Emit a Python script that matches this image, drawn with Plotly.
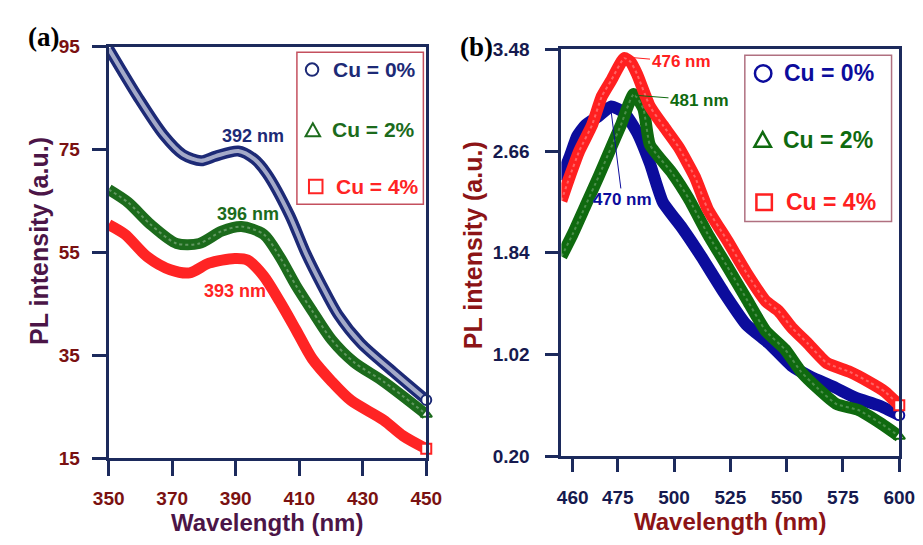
import plotly.graph_objects as go

# ---------------- data: panel (a) ----------------
wl_a_cu0 = [350, 359.2, 367.3, 373.4, 379.1, 383.7, 390.8, 395.9, 399.8, 407.0, 412.1, 417.2, 422.2, 429.4, 439.5, 450]
pl_a_cu0 = [94.6, 85.2, 77.8, 74.0, 72.8, 73.7, 74.7, 73.1, 70.3, 62.2, 54.8, 48.5, 42.9, 37.3, 31.8, 26.3]

wl_a_cu2 = [350, 356.1, 363.2, 371.4, 378.5, 385.6, 391.8, 398.8, 403.9, 409.0, 414.1, 420.2, 427.3, 436.5, 450]
pl_a_cu2 = [67.2, 64.7, 60.4, 56.7, 56.7, 59.1, 60.0, 58.5, 54.1, 48.5, 43.6, 38.0, 33.6, 29.9, 23.5]

wl_a_cu4 = [350, 355.1, 362.2, 369.4, 375.5, 381.6, 389.7, 393.7, 398.8, 403.9, 409.0, 414.1, 420.2, 426.3, 436.5, 442.7, 450]
pl_a_cu4 = [60.4, 58.5, 54.1, 51.6, 51.0, 52.9, 53.8, 53.5, 50.4, 45.4, 39.9, 34.3, 29.9, 26.2, 22.4, 19.3, 16.8]

# ---------------- data: panel (b) ----------------
wl_b_cu0 = [449.5, 453.6, 457.0, 460.7, 466.4, 472.1, 477.9, 483.6, 489.3, 495.0, 503.6, 512.1, 522.1, 532.1, 542.1, 552.1, 560.7, 570.7, 580.7, 590.7, 600]
pl_b_cu0 = [2.43, 2.61, 2.78, 2.87, 2.94, 3.02, 2.97, 2.81, 2.56, 2.25, 2.04, 1.81, 1.52, 1.26, 1.11, 0.93, 0.84, 0.76, 0.67, 0.61, 0.53]

wl_b_cu2 = [450, 455.0, 460.7, 466.4, 472.1, 476.4, 482.1, 486.4, 489.3, 499.3, 506.4, 515.0, 523.6, 532.1, 540.7, 549.3, 556.4, 563.6, 572.1, 582.1, 592.1, 600]
pl_b_cu2 = [1.81, 1.99, 2.22, 2.45, 2.69, 2.87, 3.12, 3.00, 2.71, 2.48, 2.28, 1.99, 1.73, 1.47, 1.21, 1.06, 0.88, 0.75, 0.62, 0.57, 0.46, 0.36]

wl_b_cu4 = [450, 453.6, 457.9, 463.6, 467.9, 472.1, 477.9, 480.7, 483.6, 489.3, 495.0, 502.1, 509.3, 515.0, 523.6, 532.1, 540.7, 546.4, 552.1, 559.3, 567.9, 577.9, 586.4, 593.6, 600]
pl_b_cu4 = [2.26, 2.45, 2.66, 2.87, 3.10, 3.23, 3.41, 3.38, 3.28, 3.02, 2.87, 2.69, 2.45, 2.19, 1.94, 1.68, 1.45, 1.37, 1.24, 1.11, 0.95, 0.88, 0.80, 0.72, 0.61]

series_names = ["Cu = 0%", "Cu = 2%", "Cu = 4%"]

xticks_a = [350, 370, 390, 410, 430, 450]
yticks_a = [15, 35, 55, 75, 95]
xtickvals_b = [455, 475, 500, 525, 550, 575, 600]
xticktext_b = ["460", "475", "500", "525", "550", "575", "600"]
yticks_b = [0.20, 1.02, 1.84, 2.66, 3.48]

# ---------------- styles ----------------
FONT = "Liberation Sans, Arial, sans-serif"
col_a = ["#1d2a76", "#1c6b1c", "#ff2424"]
col_b = ["#0c0c9c", "#0f6a0f", "#ff2020"]
sym = ["circle", "triangle-up", "square"]
FRAME = "#1c2a5c"

W, H = 923, 545


def px_x(p):
    return p / W


def px_y(p):
    return 1 - p / H


fig = go.Figure()

data_a = [(wl_a_cu0, pl_a_cu0), (wl_a_cu2, pl_a_cu2), (wl_a_cu4, pl_a_cu4)]
data_b = [(wl_b_cu0, pl_b_cu0), (wl_b_cu2, pl_b_cu2), (wl_b_cu4, pl_b_cu4)]
tex_a = [(4, 0.6, "solid"), (2, 0.3, "dot"), (0, 0, "solid")]
tex_b = [(0, 0, "solid"), (2, 0.25, "dot"), (2, 0.3, "dot")]

for i, (x, y) in enumerate(data_a):
    fig.add_trace(go.Scatter(x=x, y=y, mode="lines", line=dict(color=col_a[i], width=11, shape="spline", smoothing=0.8),
                             xaxis="x", yaxis="y", showlegend=False, hoverinfo="skip"))
    w, op, ds = tex_a[i]
    if w:
        fig.add_trace(go.Scatter(x=x, y=y, mode="lines",
                                 line=dict(color="white", width=w, shape="spline", smoothing=0.8, dash=ds),
                                 opacity=op, xaxis="x", yaxis="y", showlegend=False, hoverinfo="skip"))
    fig.add_trace(go.Scatter(x=[x[-1]], y=[y[-1]], mode="markers", cliponaxis=False,
                             marker=dict(symbol=sym[i], size=10, color="white", line=dict(color=col_a[i], width=2)),
                             xaxis="x", yaxis="y", showlegend=False, hoverinfo="skip"))

for i, (x, y) in enumerate(data_b):
    fig.add_trace(go.Scatter(x=x, y=y, mode="lines", line=dict(color=col_b[i], width=12, shape="spline", smoothing=0.5),
                             xaxis="x2", yaxis="y2", showlegend=False, hoverinfo="skip"))
    w, op, ds = tex_b[i]
    if w:
        fig.add_trace(go.Scatter(x=x, y=y, mode="lines",
                                 line=dict(color="white", width=w, shape="spline", smoothing=0.5, dash=ds),
                                 opacity=op, xaxis="x2", yaxis="y2", showlegend=False, hoverinfo="skip"))
    fig.add_trace(go.Scatter(x=[x[-1]], y=[y[-1]], mode="markers", cliponaxis=False,
                             marker=dict(symbol=sym[i], size=10, color="white", line=dict(color=col_b[i], width=2)),
                             xaxis="x2", yaxis="y2", showlegend=False, hoverinfo="skip"))

axis_common = dict(showline=True, mirror=True, linewidth=3, linecolor=FRAME, ticks="outside",
                   tickwidth=3, tickcolor=FRAME, showgrid=False, zeroline=False)

fig.update_layout(
    width=W, height=H, margin=dict(l=0, r=0, t=0, b=0),
    paper_bgcolor="white", plot_bgcolor="white", showlegend=False,
    xaxis=dict(domain=[px_x(96), px_x(425)], range=[350, 450], tickvals=xticks_a, anchor="y", ticklen=15,
               ticklabelstandoff=6,
               tickfont=dict(family=FONT, size=19, color="#7a1111", weight="bold"), **axis_common),
    yaxis=dict(domain=[px_y(466), px_y(38)], range=[15, 95], tickvals=yticks_a, anchor="x", ticklen=14,
               ticklabelstandoff=8,
               tickfont=dict(family=FONT, size=19, color="#7a1111", weight="bold"), **axis_common),
    xaxis2=dict(domain=[px_x(565), px_x(915)], range=[450, 600], tickvals=xtickvals_b, ticktext=xticktext_b,
                anchor="y2", ticklen=13, ticklabelstandoff=9,
                tickfont=dict(family=FONT, size=19, color="#161a4f", weight="bold"), **axis_common),
    yaxis2=dict(domain=[px_y(464), px_y(41)], range=[0.20, 3.48], tickvals=yticks_b, tickformat=".2f",
                anchor="x2", ticklen=13, ticklabelstandoff=12,
                tickfont=dict(family=FONT, size=19, color="#161a4f", weight="bold"), **axis_common),
)

ann = []


def paper_text(text, x, y, size, color, angle=0, family=FONT, bold=True, xanchor="center"):
    f = dict(family=family, size=size, color=color)
    if bold:
        f["weight"] = "bold"
    ann.append(dict(text=text, x=px_x(x), y=px_y(y), xref="paper", yref="paper", showarrow=False,
                    xanchor=xanchor, yanchor="middle", textangle=angle, font=f))


# axis titles
paper_text("Wavelength (nm)", 260, 533, 24, "#4b1547")
paper_text("PL intensity (a.u.)", 24, 240, 25, "#4b1547", angle=-90)
paper_text("Wavelength (nm)", 740, 532, 24, "#8c1416")
paper_text("PL intensity (a.u.)", 473, 245, 25, "#8c1416", angle=-90)
# panel labels
paper_text("<b>(a)</b>", 29, 28, 27, "black", family="Liberation Serif, Times New Roman, serif", bold=False)
paper_text("<b>(b)</b>", 477, 39, 27, "black", family="Liberation Serif, Times New Roman, serif", bold=False)

# peak labels (a)
for txt, xv, yv, c in [("392 nm", 395.3, 77.6, col_a[0]), ("396 nm", 394.0, 62.5, col_a[1]),
                       ("393 nm", 389.8, 47.4, col_a[2])]:
    ann.append(dict(text=txt, x=xv, y=yv, xref="x", yref="y", showarrow=False,
                    font=dict(family=FONT, size=18, color=c, weight="bold")))
# peak labels (b) with leader lines
for txt, xv, yv, axv, ayv, c in [("476 nm", 477.9, 3.42, 503.1, 3.38, col_b[2]),
                                 ("481 nm", 483.0, 3.11, 511.3, 3.07, col_b[1]),
                                 ("470 nm", 471.8, 3.02, 477.0, 2.27, col_b[0])]:
    ann.append(dict(text=txt, x=xv, y=yv, xref="x2", yref="y2", ax=axv, ay=ayv, axref="x2", ayref="y2",
                    showarrow=True, arrowhead=0, arrowwidth=1, arrowcolor=c,
                    font=dict(family=FONT, size=17, color=c, weight="bold")))

# ---------------- legends (drawn as layout shapes + text) ----------------
shapes = []


def box(x0, y0, x1, y1, color):
    shapes.append(dict(type="rect", xref="paper", yref="paper", x0=px_x(x0), x1=px_x(x1), y0=px_y(y1), y1=px_y(y0),
                       line=dict(color=color, width=1.5), fillcolor="white", layer="above"))


def symbol(kind, cx, cy, d, color, lw):
    r = d / 2
    if kind == "circle":
        shapes.append(dict(type="circle", xref="paper", yref="paper", x0=px_x(cx - r), x1=px_x(cx + r),
                           y0=px_y(cy + r), y1=px_y(cy - r), line=dict(color=color, width=lw), layer="above"))
    elif kind == "square":
        shapes.append(dict(type="rect", xref="paper", yref="paper", x0=px_x(cx - r), x1=px_x(cx + r),
                           y0=px_y(cy + r), y1=px_y(cy - r), line=dict(color=color, width=lw), layer="above"))
    else:
        p = (f"M {px_x(cx - r)},{px_y(cy + r * 0.85)} L {px_x(cx + r)},{px_y(cy + r * 0.85)} "
             f"L {px_x(cx)},{px_y(cy - r * 0.95)} Z")
        shapes.append(dict(type="path", xref="paper", yref="paper", path=p, line=dict(color=color, width=lw),
                           layer="above"))


box(291, 44, 422, 202, "#c4505e")
leg_a = [(306.7, 62, 13, 326, 62), (307.5, 125, 15, 325, 124), (310.5, 183.5, 14, 329, 183.5)]
for i, (sx, sy, d, tx, ty) in enumerate(leg_a):
    symbol(sym[i].split("-")[0], sx, sy, d, col_a[i], 2)
    paper_text(series_names[i], tx, ty, 21, col_a[i], xanchor="left")

box(755, 47, 907, 220, "#b07080")
leg_b = [(774, 66, 17, 794, 66), (773.5, 135, 17, 792, 135), (775, 200, 16, 796, 200)]
for i, (sx, sy, d, tx, ty) in enumerate(leg_b):
    symbol(sym[i].split("-")[0], sx, sy, d, col_b[i], 2.5)
    paper_text(series_names[i], tx, ty, 23, col_b[i], xanchor="left")

fig.update_layout(annotations=ann, shapes=shapes)

fig.write_html("out.html")
